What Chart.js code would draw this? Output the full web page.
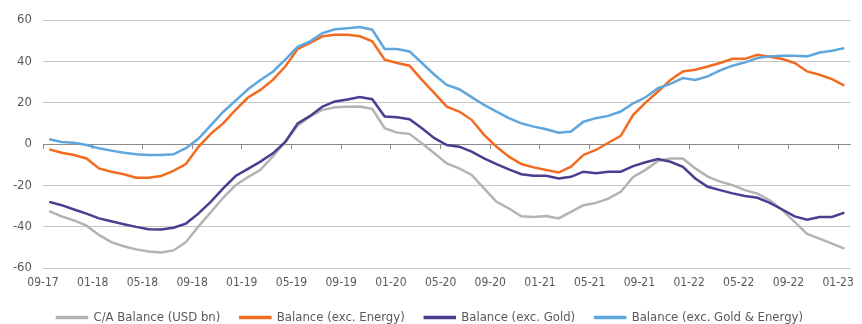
<!DOCTYPE html>
<html>
<head>
<meta charset="utf-8">
<script src="https://cdn.jsdelivr.net/npm/chart.js@4.4.0/dist/chart.umd.min.js"></script>
<style>
  html, body { margin: 0; padding: 0; background: #fff; }
  #wrap { width: 862px; height: 324px; position: relative; }
</style>
</head>
<body>
<div id="wrap"><canvas id="caChart"></canvas></div>
<script>
// Monthly data, 09-17 .. 01-23 (65 points), USD bn
const tickLabels = ['09-17', '01-18', '05-18', '09-18', '01-19', '05-19', '09-19', '01-20', '05-20',
                    '09-20', '01-21', '05-21', '09-21', '01-22', '05-22', '09-22', '01-23'];

const caBalance = [-32.5, -35, -37, -39.5, -44, -47.5, -49.5, -51, -52, -52.5, -51.5, -47.5, -40,
                   -33, -26, -20, -16, -12.5, -6, 1, 9, 13.3, 16.5, 17.8, 18, 18.1, 17, 7.6,
                   5.5, 4.9, 0.3, -4.5, -9.4, -11.8, -15, -21.5, -28, -31.2, -35, -35.3, -34.8,
                   -36, -32.8, -29.6, -28.5, -26.4, -23.1, -15.9, -12.5, -8.2, -7, -7, -11.8,
                   -15.8, -18.2, -19.9, -22.3, -24, -27.2, -32, -37.7, -43.5, -45.8, -48.2, -50.6];

const exEnergy = [-2.6, -4.2, -5.3, -7, -11.8, -13.4, -14.6, -16.3, -16.3, -15.5, -13, -9.7, -1.5,
                  4.9, 10, 16.5, 22.5, 26.2, 31, 37.5, 46, 48.9, 52.1, 52.9, 52.9, 52.1, 49.7, 40.8,
                  39.2, 37.9, 31, 24.6, 18.1, 15.7, 11.7, 4.4, -1.3, -6.1, -9.7, -11.3, -12.6,
                  -13.8, -11, -5.3, -2.9, 0.6, 3.9, 14.1, 20, 25.4, 31, 35.1, 35.9, 37.5, 39.2,
                  41.2, 41.2, 43.2, 42.2, 41.1, 39.2, 35.1, 33.5, 31.4, 28.2];

const exGold = [-28, -29.6, -31.7, -33.7, -36, -37.4, -38.8, -40.1, -41.2, -41.4, -40.5, -38.5, -33.7,
                -28, -21.5, -15.5, -12, -8.5, -4.5, 1, 10, 13.6, 18.1, 20.6, 21.5, 22.7, 21.7, 13.3,
                12.9, 12, 7.6, 2.8, -0.5, -1.3, -3.7, -7, -9.7, -12.3, -14.6, -15.4, -15.4, -16.7,
                -15.9, -13.4, -14.2, -13.4, -13.4, -10.7, -8.8, -7.3, -8.6, -11, -16.7, -20.7,
                -22.3, -23.9, -25.2, -26, -28.5, -31.7, -35, -36.6, -35.3, -35.3, -33.2];

const exGoldEnergy = [2.3, 1, 0.6, -0.5, -2.1, -3.2, -4.2, -5, -5.3, -5.3, -5, -2, 2.5, 9, 15.5, 21,
                      26.5, 31, 35, 40.8, 47, 49.7, 53.7, 55.5, 56, 56.6, 55.3, 46, 46, 44.8, 39.2,
                      33.5, 28.6, 26.5, 22.7, 18.9, 15.7, 12.5, 10, 8.4, 7.1, 5.5, 6, 10.8, 12.5,
                      13.6, 15.7, 19.7, 22.6, 27, 29.1, 31.9, 31, 32.7, 35.6, 37.9, 39.5, 41.6,
                      42.4, 42.7, 42.7, 42.4, 44.3, 45.1, 46.4];

const seriesNames = ['C/A Balance (USD bn)', 'Balance (exc. Energy)', 'Balance (exc. Gold)', 'Balance (exc. Gold & Energy)'];
const seriesColors = ['#b3b3b3', '#f26b21', '#4b3d8f', '#5ea6dc'];

const FONT = '"Liberation Sans Narrow", "DejaVu Sans Condensed", "Roboto Condensed", sans-serif';
Chart.defaults.font.family = FONT;
Chart.defaults.font.size = 12;
Chart.defaults.color = '#595959';

// each month sits in the middle of its slot
function toPoints(values) {
    return values.map((v, i) => ({ x: i + 0.5, y: v }));
}

function buildDatasets() {
    return [caBalance, exEnergy, exGold, exGoldEnergy].map((vals, k) => ({
        label: seriesNames[k],
        data: toPoints(vals),
        borderColor: seriesColors[k],
        backgroundColor: seriesColors[k],
        borderWidth: 2.5,
        pointRadius: 0,
        tension: 0,
        order: 4 - k
    }));
}

const ctx = document.getElementById('caChart').getContext('2d');
new Chart(ctx, {
    type: 'line',
    data: { datasets: buildDatasets() },
    options: {
        responsive: true,
        maintainAspectRatio: false,
        animation: false,
        layout: { padding: { left: 8, right: 10, top: 20, bottom: -10 } },
        scales: {
            y: {
                min: -60,
                max: 60,
                ticks: { stepSize: 20, padding: 11, color: '#595959', font: { size: 13 } },
                grid: {
                    drawTicks: false,
                    color: c => (c.tick && c.tick.value === 0) ? '#8c8c8c' : '#c6c6c6'
                },
                border: { display: false },
                afterFit: s => { s.width = 35; }
            },
            x: {
                type: 'linear',
                min: 0,
                max: 65,
                ticks: {
                    stepSize: 4,
                    includeBounds: false,
                    autoSkip: false,
                    maxRotation: 0,
                    padding: 8,
                    color: '#595959',
                    callback: v => tickLabels[v / 4] ?? ''
                },
                grid: { display: false, drawTicks: false },
                border: { display: false },
                afterFit: s => { s.height = 23; }
            },
            // tick marks sitting on the zero line
            xZero: {
                type: 'linear',
                axis: 'x',
                position: { y: 0 },
                min: 0,
                max: 65,
                ticks: { display: false, stepSize: 4, includeBounds: false },
                grid: { drawOnChartArea: false, drawTicks: true, tickLength: 4, color: '#8c8c8c' },
                border: { color: '#8c8c8c' }
            }
        },
        plugins: {
            legend: {
                position: 'bottom',
                labels: {
                    boxWidth: 30,
                    boxHeight: 1,
                    padding: 20,
                    color: '#595959',
                    font: { size: 13 },
                    sort: (a, b) => a.datasetIndex - b.datasetIndex
                }
            },
            tooltip: { enabled: false }
        }
    }
});
</script>
</body>
</html>
